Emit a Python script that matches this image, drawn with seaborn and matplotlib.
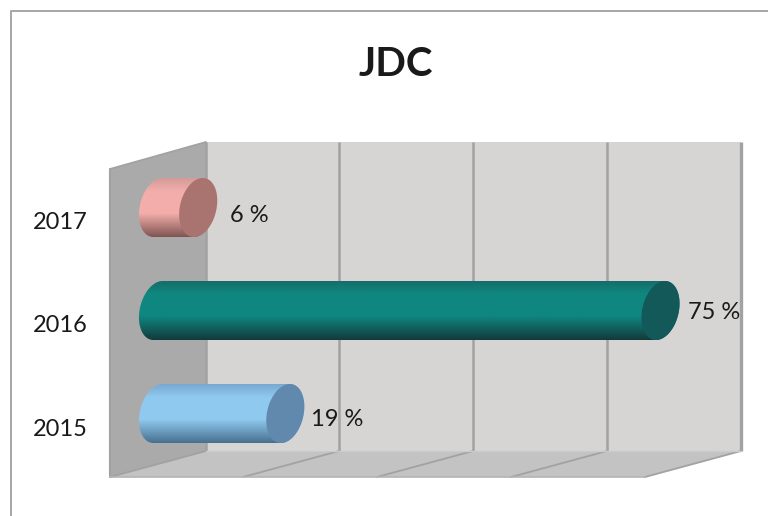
"""JDC: 3D-look horizontal cylinder bars drawn on top of a seaborn barplot."""
import numpy as np
import pandas as pd
import matplotlib.pyplot as plt
from matplotlib.colors import LinearSegmentedColormap
from matplotlib.lines import Line2D
from matplotlib.patches import Polygon
import seaborn as sns

# ========== data ==========
title = 'JDC'
years = ['2017', '2016', '2015']
values = [6, 75, 19]
value_labels = ['6 %', '75 %', '19 %']

# top edge, body, bottom edge, end cap
bar_shades = [
    ['#d49a98', '#f3aeab', '#7f5452', '#a9746f'],
    ['#176a67', '#0f8780', '#143a3b', '#14595a'],
    ['#78a9d2', '#90c9ef', '#48708f', '#6189ae'],
]

sns.set_theme(style='white')
plt.rcParams['font.family'] = ['Lato', 'DejaVu Sans']

W, H = 768, 516
fig = plt.figure(figsize=(W / 100, H / 100), dpi=100, facecolor='white')

# ========== chart box: walls and floor, in pixels ==========
bg = fig.add_axes([0, 0, 1, 1], zorder=0)
bg.set_xlim(0, W)
bg.set_ylim(H, 0)
bg.axis('off')

C_LINE = '#a2a2a2'
bg.add_patch(Polygon([(206, 142), (741, 142), (741, 451), (206, 451)], fc='#d6d5d4', ec='none'))
bg.add_patch(Polygon([(110, 169), (206, 142), (206, 451), (110, 477)], fc='#abaaaa', ec='none'))
bg.add_patch(Polygon([(110, 477), (206, 451), (741, 451), (645, 477)], fc='#c3c3c3', ec='none'))

for gx in [206, 339, 473, 607, 741]:
    bg.plot([gx, gx], [142, 451], color=C_LINE, lw=2.4 if gx == 741 else 1.8, solid_capstyle='butt')
    bg.plot([gx, gx - 96], [451, 477], color=C_LINE, lw=1.3)
bg.plot([110, 110], [169, 477], color=C_LINE, lw=1.5)
bg.plot([110, 206], [169, 142], color=C_LINE, lw=1.3)
bg.plot([110, 645], [477, 477], color='#b4b4b4', lw=1.2)
bg.plot([206, 741], [451, 451], color='#cbcbcb', lw=1)

# outer frame
fig.add_artist(Line2D([10.5 / W, 10.5 / W, 1], [0, 1 - 11 / H, 1 - 11 / H], color='#a6a6a6', lw=1.4))

# ========== bars ==========
PX_PER_UNIT = 6.7
X0_PX = 158
Y0_PX = 207.5
ROW_PX = 103

ax = fig.add_axes([0, 0, 1, 1], zorder=1)
ax.patch.set_alpha(0)
df = pd.DataFrame({'year': years, 'value': values})
sns.barplot(data=df, x='value', y='year', order=years, orient='h',
            width=59 / ROW_PX, color='white', ax=ax)
xlim = (-X0_PX / PX_PER_UNIT, (W - X0_PX) / PX_PER_UNIT)
ylim = ((H - Y0_PX) / ROW_PX, -Y0_PX / ROW_PX)
ax.set_xlim(xlim)
ax.set_ylim(ylim)
ax.axis('off')

RX = 18.5 / PX_PER_UNIT
SHEAR = 4.5 / PX_PER_UNIT


def cap_outline(cx, cy, half_h, t):
    # slightly slanted ellipse, the look of a cylinder seen from the side
    return np.column_stack([cx + RX * np.cos(t) + SHEAR * np.sin(t) * -1,
                            cy + half_h * np.sin(t)])


for bar, shades in zip(ax.patches, bar_shades):
    bar.set_visible(False)
    x1 = bar.get_width()
    y_top = bar.get_y()
    half_h = bar.get_height() / 2
    cy = y_top + half_h

    t_left = np.linspace(np.pi * 0.5, np.pi * 1.5, 60)
    t_right = np.linspace(np.pi * 1.5, np.pi * 2.5, 60)
    body = np.vstack([cap_outline(0, cy, half_h, t_left),
                      cap_outline(x1, cy, half_h, t_right)])
    clip = Polygon(body, transform=ax.transData, fc='none', ec='none')
    ax.add_patch(clip)

    cmap = LinearSegmentedColormap.from_list(
        'cyl', [(0, shades[0]), (0.22, shades[1]), (0.6, shades[1]), (1, shades[2])])
    img = ax.imshow(np.linspace(0, 1, 128).reshape(-1, 1), cmap=cmap, aspect='auto',
                    extent=(-2 * RX, x1 + 2 * RX, y_top + 2 * half_h, y_top), zorder=2)
    img.set_clip_path(clip)

    cap = Polygon(cap_outline(x1, cy, half_h, np.linspace(0, 2 * np.pi, 120)),
                  fc=shades[3], ec='none', zorder=3)
    ax.add_patch(cap)

ax.set_xlim(xlim)
ax.set_ylim(ylim)

# ========== text ==========
ax.text((395.5 - X0_PX) / PX_PER_UNIT, (65 - Y0_PX) / ROW_PX, title, fontsize=29, fontweight='bold',
        color='#1a1a1a', ha='center', va='center')

label_dx = [32 / PX_PER_UNIT, 28 / PX_PER_UNIT, 26 / PX_PER_UNIT]
label_dy = [8 / ROW_PX, 2 / ROW_PX, 5.5 / ROW_PX]
for i, (year, val, lab) in enumerate(zip(years, values, value_labels)):
    ax.text((33 - X0_PX) / PX_PER_UNIT, i + 15.5 / ROW_PX, year, fontsize=17,
            color='#1a1a1a', ha='left', va='center')
    ax.text(val + label_dx[i], i + label_dy[i], lab, fontsize=17,
            color='#1a1a1a', ha='left', va='center', zorder=4)

fig.savefig('out.png', dpi=100)
